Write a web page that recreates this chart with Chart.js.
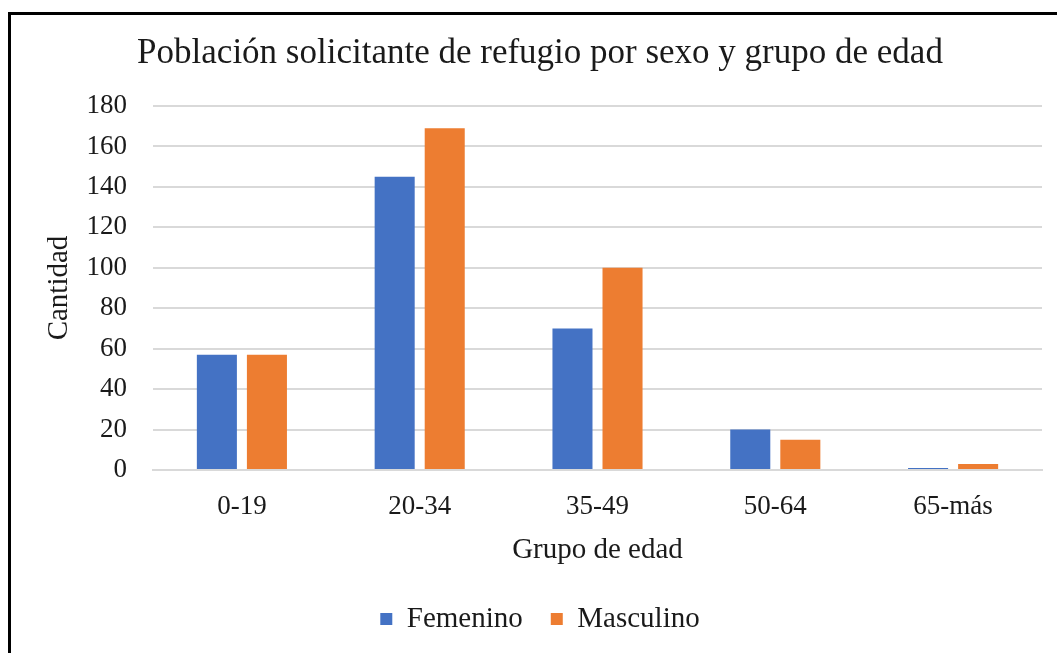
<!DOCTYPE html>
<html>
<head>
<meta charset="utf-8">
<script src="https://cdn.jsdelivr.net/npm/chart.js@4"></script>
<style>
  html, body { margin: 0; padding: 0; background: #fff; overflow: hidden; }
  #wrap { position: relative; width: 1057px; height: 653px; }
  #frame {
    position: absolute; left: 8px; top: 12px; width: 2000px; height: 2000px;
    border-left: 3px solid #000; border-top: 3px solid #000; pointer-events: none;
  }
  canvas { position: absolute; left: 0; top: 0; }
</style>
</head>
<body>
<div id="wrap">
  <canvas id="chart" width="1057" height="653"></canvas>
  <div id="frame"></div>
</div>
<script>
// data
const groups = ['0-19', '20-34', '35-49', '50-64', '65-más'];
const femenino = [57, 145, 70, 20, 1];
const masculino = [57, 169, 100, 15, 3];
const yTicks = [0, 20, 40, 60, 80, 100, 120, 140, 160, 180];

const serif = 'Liberation Serif, Times New Roman, serif';
const textColor = '#1a1a1a';
const gridColor = '#d9d9d9';

new Chart(document.getElementById('chart'), {
  type: 'bar',
  data: {
    labels: groups,
    datasets: [
      { label: 'Femenino', data: femenino, backgroundColor: '#4472C4' },
      { label: 'Masculino', data: masculino, backgroundColor: '#ED7D31' },
    ],
  },
  options: {
    responsive: false,
    animation: false,
    categoryPercentage: 0.563,
    barPercentage: 0.8,
    layout: {
      padding: { top: 14, left: 38, right: 15, bottom: 9.5 },
    },
    plugins: {
      title: {
        display: true,
        text: 'Población solicitante de refugio por sexo y grupo de edad',
        color: textColor,
        font: { family: serif, size: 35, weight: 'normal' },
        padding: { top: 19, bottom: 31 },
      },
      legend: {
        position: 'bottom',
        labels: {
          color: textColor,
          font: { family: serif, size: 29 },
          boxWidth: 12,
          boxHeight: 12,
          padding: 28,
        },
      },
      tooltip: { enabled: false },
    },
    scales: {
      x: {
        grid: { display: false, drawTicks: false },
        border: { display: true, color: gridColor, width: 2 },
        ticks: { color: textColor, font: { family: serif, size: 27 }, padding: 21 },
        title: {
          display: true,
          text: 'Grupo de edad',
          color: textColor,
          font: { family: serif, size: 29 },
          padding: { top: 0, bottom: 9 },
        },
        afterFit: (scale) => { scale.height = 106.5; },
      },
      y: {
        min: 0,
        max: 180,
        afterBuildTicks: (scale) => { scale.ticks = yTicks.map(v => ({ value: v })); },
        grid: { color: gridColor, lineWidth: 2, drawTicks: false },
        border: { display: false },
        ticks: { color: textColor, font: { family: serif, size: 27 }, padding: 26 },
        title: {
          display: true,
          text: 'Cantidad',
          color: textColor,
          font: { family: serif, size: 29 },
          padding: { top: 4, bottom: 0 },
        },
        afterFit: (scale) => { scale.width = 115; },
      },
    },
  },
});
</script>
</body>
</html>
